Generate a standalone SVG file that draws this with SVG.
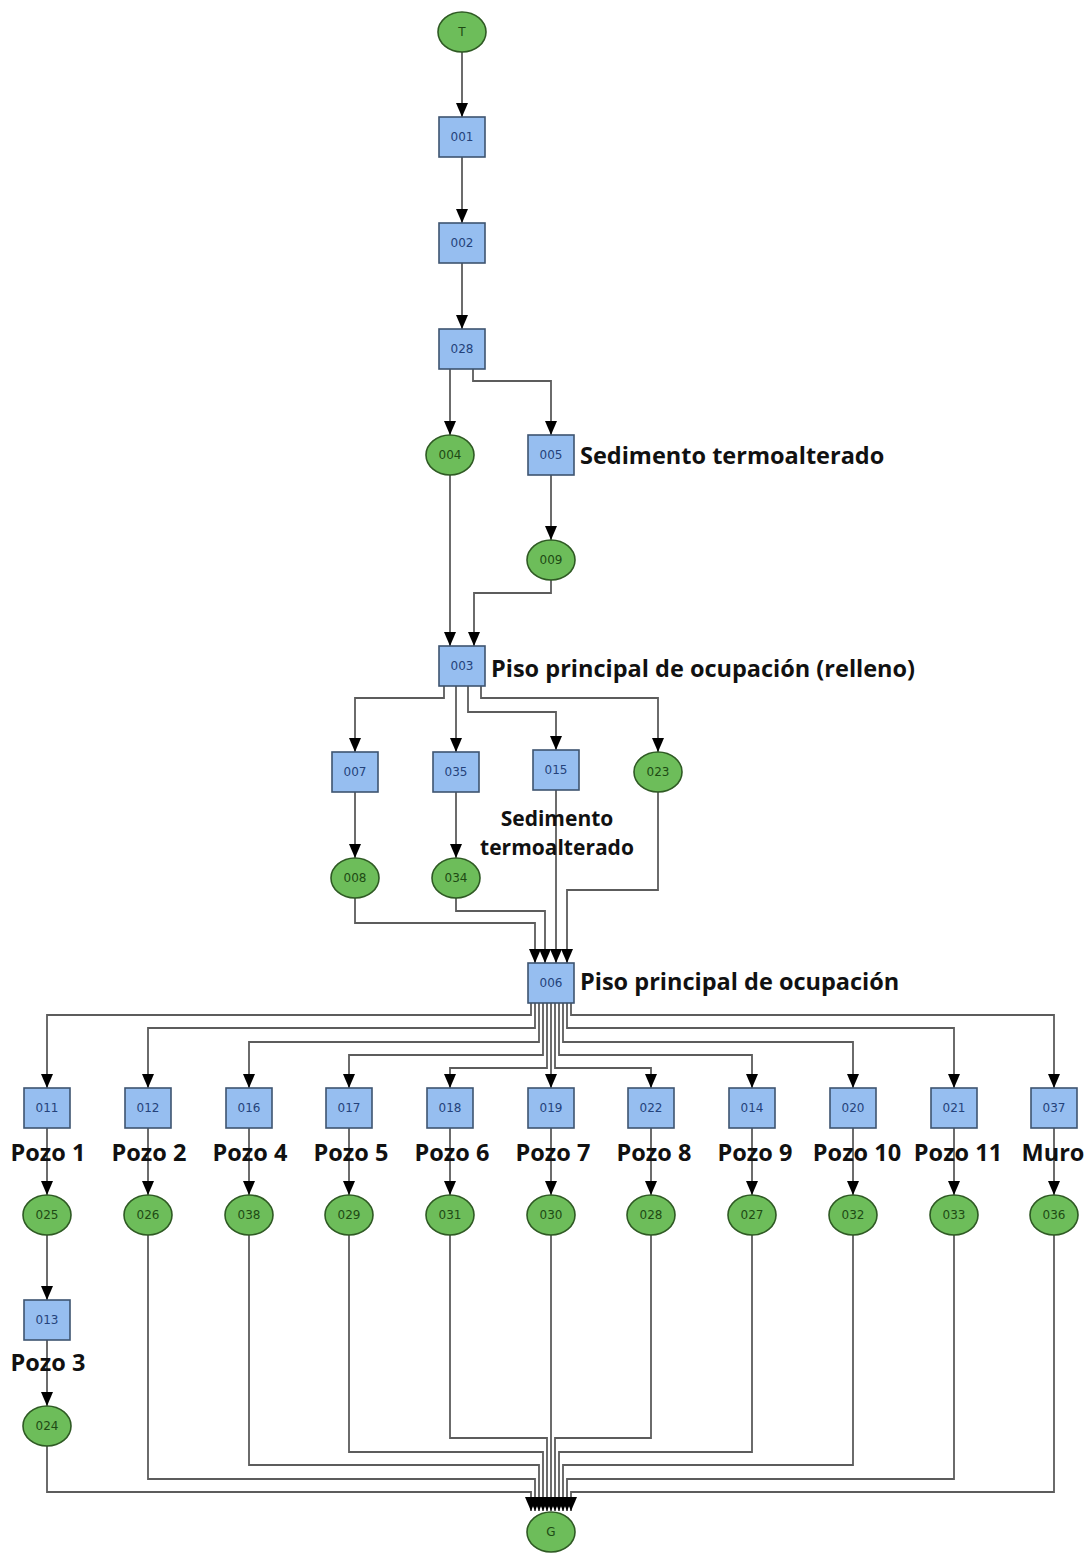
<svg xmlns="http://www.w3.org/2000/svg" width="1091" height="1553" viewBox="0 0 1091 1553">
<defs>
<marker id="ah" viewBox="0 0 14 12" refX="14" refY="6" markerWidth="14" markerHeight="12" markerUnits="userSpaceOnUse" orient="auto">
<path d="M0,0 L14,6 L0,12 z" fill="#000"/>
</marker>
<style>
.e{fill:none;stroke:#5c5c5c;stroke-width:1.8;marker-end:url(#ah)}
.b{fill:#96bef0;stroke:#3e5470;stroke-width:1.6}
.o{fill:#6dbd5a;stroke:#2f5a24;stroke-width:1.6}
.bt{font-family:"DejaVu Sans",sans-serif;font-size:12px;fill:#24427a;text-anchor:middle;dominant-baseline:central}
.ot{font-family:"DejaVu Sans",sans-serif;font-size:12px;fill:#1e4a14;text-anchor:middle;dominant-baseline:central}
.l{font-family:"Open Sans","Noto Sans",sans-serif;font-weight:700;font-size:23.5px;fill:#111}
.lc{font-family:"Open Sans","Noto Sans",sans-serif;font-weight:700;font-size:23.5px;fill:#111;text-anchor:middle}
.ls{font-family:"Open Sans","Noto Sans",sans-serif;font-weight:700;font-size:21px;fill:#111;text-anchor:middle}
</style>
</defs>
<rect width="1091" height="1553" fill="#fff"/>
<g id="connectors">
<path class="e" d="M462,52 V117"/>
<path class="e" d="M462,157 V223"/>
<path class="e" d="M462,263 V329"/>
<path class="e" d="M450,369 V435"/>
<path class="e" d="M473,369 V381 H551 V435"/>
<path class="e" d="M551,475 V540"/>
<path class="e" d="M450,475 V646"/>
<path class="e" d="M551,580 V593 H474 V646"/>
<path class="e" d="M444,686 V698 H355 V752"/>
<path class="e" d="M456,686 V752"/>
<path class="e" d="M468,686 V712 H556 V750"/>
<path class="e" d="M481,686 V698 H658 V752"/>
<path class="e" d="M355,792 V858"/>
<path class="e" d="M456,792 V858"/>
<path class="e" d="M355,898 V923 H535 V963"/>
<path class="e" d="M456,898 V911 H545 V963"/>
<path class="e" d="M556,790 V963"/>
<path class="e" d="M658,792 V890 H567 V963"/>
<path class="e" d="M531,1003 V1015 H47 V1088"/>
<path class="e" d="M535,1003 V1028 H148 V1088"/>
<path class="e" d="M539,1003 V1042 H249 V1088"/>
<path class="e" d="M543,1003 V1055 H349 V1088"/>
<path class="e" d="M547,1003 V1068 H450 V1088"/>
<path class="e" d="M551,1003 V1088"/>
<path class="e" d="M555,1003 V1068 H651 V1088"/>
<path class="e" d="M559,1003 V1055 H752 V1088"/>
<path class="e" d="M563,1003 V1042 H853 V1088"/>
<path class="e" d="M567,1003 V1028 H954 V1088"/>
<path class="e" d="M571,1003 V1015 H1054 V1088"/>
<path class="e" d="M47,1128 V1195"/>
<path class="e" d="M148,1128 V1195"/>
<path class="e" d="M249,1128 V1195"/>
<path class="e" d="M349,1128 V1195"/>
<path class="e" d="M450,1128 V1195"/>
<path class="e" d="M551,1128 V1195"/>
<path class="e" d="M651,1128 V1195"/>
<path class="e" d="M752,1128 V1195"/>
<path class="e" d="M853,1128 V1195"/>
<path class="e" d="M954,1128 V1195"/>
<path class="e" d="M1054,1128 V1195"/>
<path class="e" d="M47,1235 V1300"/>
<path class="e" d="M47,1340 V1406"/>
<path class="e" d="M47,1446 V1492 H531 V1511"/>
<path class="e" d="M148,1235 V1479 H535 V1511"/>
<path class="e" d="M249,1235 V1465 H539 V1511"/>
<path class="e" d="M349,1235 V1452 H543 V1511"/>
<path class="e" d="M450,1235 V1438 H547 V1511"/>
<path class="e" d="M551,1235 V1511"/>
<path class="e" d="M651,1235 V1438 H555 V1511"/>
<path class="e" d="M752,1235 V1452 H559 V1511"/>
<path class="e" d="M853,1235 V1465 H563 V1511"/>
<path class="e" d="M954,1235 V1479 H567 V1511"/>
<path class="e" d="M1054,1235 V1492 H571 V1511"/>
</g>
<g id="T"><ellipse class="o" cx="462" cy="32" rx="24" ry="20"/><text class="ot" x="462" y="32">T</text></g>
<g id="n001"><rect class="b" x="439" y="117" width="46" height="40"/><text class="bt" x="462" y="137">001</text></g>
<g id="n002"><rect class="b" x="439" y="223" width="46" height="40"/><text class="bt" x="462" y="243">002</text></g>
<g id="n028"><rect class="b" x="439" y="329" width="46" height="40"/><text class="bt" x="462" y="349">028</text></g>
<g id="n004"><ellipse class="o" cx="450" cy="455" rx="24" ry="20"/><text class="ot" x="450" y="455">004</text></g>
<g id="n005"><rect class="b" x="528" y="435" width="46" height="40"/><text class="bt" x="551" y="455">005</text><text class="l" x="580" y="464">Sedimento termoalterado</text></g>
<g id="n009"><ellipse class="o" cx="551" cy="560" rx="24" ry="20"/><text class="ot" x="551" y="560">009</text></g>
<g id="n003"><rect class="b" x="439" y="646" width="46" height="40"/><text class="bt" x="462" y="666">003</text><text class="l" x="491" y="677">Piso principal de ocupación (relleno)</text></g>
<g id="n007"><rect class="b" x="332" y="752" width="46" height="40"/><text class="bt" x="355" y="772">007</text></g>
<g id="n035"><rect class="b" x="433" y="752" width="46" height="40"/><text class="bt" x="456" y="772">035</text></g>
<g id="n015"><rect class="b" x="533" y="750" width="46" height="40"/><text class="bt" x="556" y="770">015</text><text class="ls" x="557" y="826">Sedimento</text><text class="ls" x="557" y="855">termoalterado</text></g>
<g id="n023"><ellipse class="o" cx="658" cy="772" rx="24" ry="20"/><text class="ot" x="658" y="772">023</text></g>
<g id="n008"><ellipse class="o" cx="355" cy="878" rx="24" ry="20"/><text class="ot" x="355" y="878">008</text></g>
<g id="n034"><ellipse class="o" cx="456" cy="878" rx="24" ry="20"/><text class="ot" x="456" y="878">034</text></g>
<g id="n006"><rect class="b" x="528" y="963" width="46" height="40"/><text class="bt" x="551" y="983">006</text><text class="l" x="580" y="990">Piso principal de ocupación</text></g>
<g id="n011"><rect class="b" x="24" y="1088" width="46" height="40"/><text class="bt" x="47" y="1108">011</text><text class="lc" x="48" y="1161">Pozo 1</text></g>
<g id="n012"><rect class="b" x="125" y="1088" width="46" height="40"/><text class="bt" x="148" y="1108">012</text><text class="lc" x="149" y="1161">Pozo 2</text></g>
<g id="n016"><rect class="b" x="226" y="1088" width="46" height="40"/><text class="bt" x="249" y="1108">016</text><text class="lc" x="250" y="1161">Pozo 4</text></g>
<g id="n017"><rect class="b" x="326" y="1088" width="46" height="40"/><text class="bt" x="349" y="1108">017</text><text class="lc" x="351" y="1161">Pozo 5</text></g>
<g id="n018"><rect class="b" x="427" y="1088" width="46" height="40"/><text class="bt" x="450" y="1108">018</text><text class="lc" x="452" y="1161">Pozo 6</text></g>
<g id="n019"><rect class="b" x="528" y="1088" width="46" height="40"/><text class="bt" x="551" y="1108">019</text><text class="lc" x="553" y="1161">Pozo 7</text></g>
<g id="n022"><rect class="b" x="628" y="1088" width="46" height="40"/><text class="bt" x="651" y="1108">022</text><text class="lc" x="654" y="1161">Pozo 8</text></g>
<g id="n014"><rect class="b" x="729" y="1088" width="46" height="40"/><text class="bt" x="752" y="1108">014</text><text class="lc" x="755" y="1161">Pozo 9</text></g>
<g id="n020"><rect class="b" x="830" y="1088" width="46" height="40"/><text class="bt" x="853" y="1108">020</text><text class="lc" x="857" y="1161">Pozo 10</text></g>
<g id="n021"><rect class="b" x="931" y="1088" width="46" height="40"/><text class="bt" x="954" y="1108">021</text><text class="lc" x="958" y="1161">Pozo 11</text></g>
<g id="n037"><rect class="b" x="1031" y="1088" width="46" height="40"/><text class="bt" x="1054" y="1108">037</text><text class="lc" x="1053" y="1161">Muro</text></g>
<g id="n025"><ellipse class="o" cx="47" cy="1215" rx="24" ry="20"/><text class="ot" x="47" y="1215">025</text></g>
<g id="n026"><ellipse class="o" cx="148" cy="1215" rx="24" ry="20"/><text class="ot" x="148" y="1215">026</text></g>
<g id="n038"><ellipse class="o" cx="249" cy="1215" rx="24" ry="20"/><text class="ot" x="249" y="1215">038</text></g>
<g id="n029"><ellipse class="o" cx="349" cy="1215" rx="24" ry="20"/><text class="ot" x="349" y="1215">029</text></g>
<g id="n031"><ellipse class="o" cx="450" cy="1215" rx="24" ry="20"/><text class="ot" x="450" y="1215">031</text></g>
<g id="n030"><ellipse class="o" cx="551" cy="1215" rx="24" ry="20"/><text class="ot" x="551" y="1215">030</text></g>
<g id="n028b"><ellipse class="o" cx="651" cy="1215" rx="24" ry="20"/><text class="ot" x="651" y="1215">028</text></g>
<g id="n027"><ellipse class="o" cx="752" cy="1215" rx="24" ry="20"/><text class="ot" x="752" y="1215">027</text></g>
<g id="n032"><ellipse class="o" cx="853" cy="1215" rx="24" ry="20"/><text class="ot" x="853" y="1215">032</text></g>
<g id="n033"><ellipse class="o" cx="954" cy="1215" rx="24" ry="20"/><text class="ot" x="954" y="1215">033</text></g>
<g id="n036"><ellipse class="o" cx="1054" cy="1215" rx="24" ry="20"/><text class="ot" x="1054" y="1215">036</text></g>
<g id="n013"><rect class="b" x="24" y="1300" width="46" height="40"/><text class="bt" x="47" y="1320">013</text><text class="lc" x="48" y="1371">Pozo 3</text></g>
<g id="n024"><ellipse class="o" cx="47" cy="1426" rx="24" ry="20"/><text class="ot" x="47" y="1426">024</text></g>
<g id="G"><ellipse class="o" cx="551" cy="1532" rx="24" ry="20"/><text class="ot" x="551" y="1532">G</text></g>
</svg>
